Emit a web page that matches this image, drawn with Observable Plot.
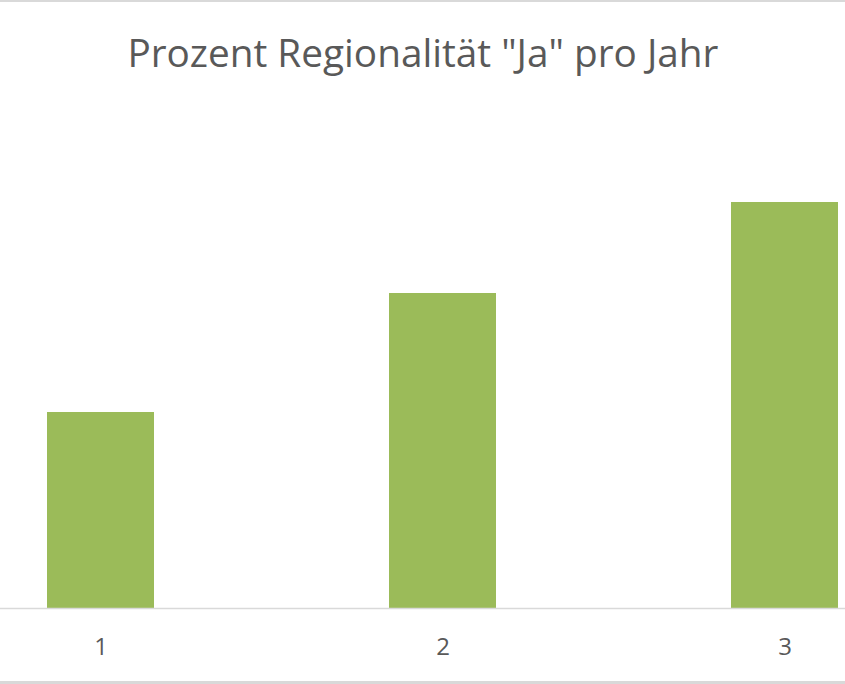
<!DOCTYPE html>
<html>
<head>
<meta charset="utf-8">
<script src="https://cdn.jsdelivr.net/npm/d3@7"></script>
<script src="https://cdn.jsdelivr.net/npm/@observablehq/plot@0.6"></script>
<style>
  html, body { margin: 0; padding: 0; background: #fff; }
  #wrap { position: relative; width: 845px; height: 684px; overflow: hidden; background: #fff; }
  #topline { position: absolute; left: 0; top: 0; width: 845px; height: 2px; background: #d9d9d9; }
  #botline { position: absolute; left: 0; top: 681px; width: 845px; height: 3px; background: #d9d9d9; }
  #title { position: absolute; left: 0; top: 26px; width: 845px; text-align: center;
           font-family: "Open Sans", sans-serif; font-size: 38px; color: #595959; white-space: nowrap; line-height: 52px; }
  #title span { display: inline-block; transform-origin: center; }
  #chart { position: absolute; left: 0; top: 0; }
</style>
</head>
<body>
<div id="wrap">
  <div id="chart"></div>
  <div id="topline"></div>
  <div id="botline"></div>
  <div id="title"><span id="ttext"></span></div>
</div>
<script>
const titleText = 'Prozent Regionalität "Ja" pro Jahr';
const years = ["1", "2", "3"];
const values = [19.6, 31.5, 40.6];

const data = years.map((y, i) => ({year: y, value: values[i]}));

const chart = Plot.plot({
  width: 845,
  height: 684,
  marginTop: 108,
  marginBottom: 76,
  marginLeft: 0,
  marginRight: 0,
  style: {background: "transparent", fontFamily: "Open Sans, sans-serif"},
  x: {domain: years, range: [-70, 956], paddingInner: 0.687, paddingOuter: 0.3435, label: null},
  y: {domain: [0, 50], axis: null},
  marks: [
    Plot.barY(data, {x: "year", y: "value", fill: "#9BBB59"}),
    Plot.ruleY([0], {stroke: "#d9d9d9", strokeWidth: 1.5}),
    Plot.axisX({tickSize: 0, tickPadding: 29, fontSize: 24, color: "#595959", label: null})
  ]
});
document.getElementById("chart").appendChild(chart);

const span = document.getElementById("ttext");
span.textContent = titleText;
const w = span.getBoundingClientRect().width;
span.style.transform = `scaleX(${591 / w})`;
</script>
</body>
</html>
